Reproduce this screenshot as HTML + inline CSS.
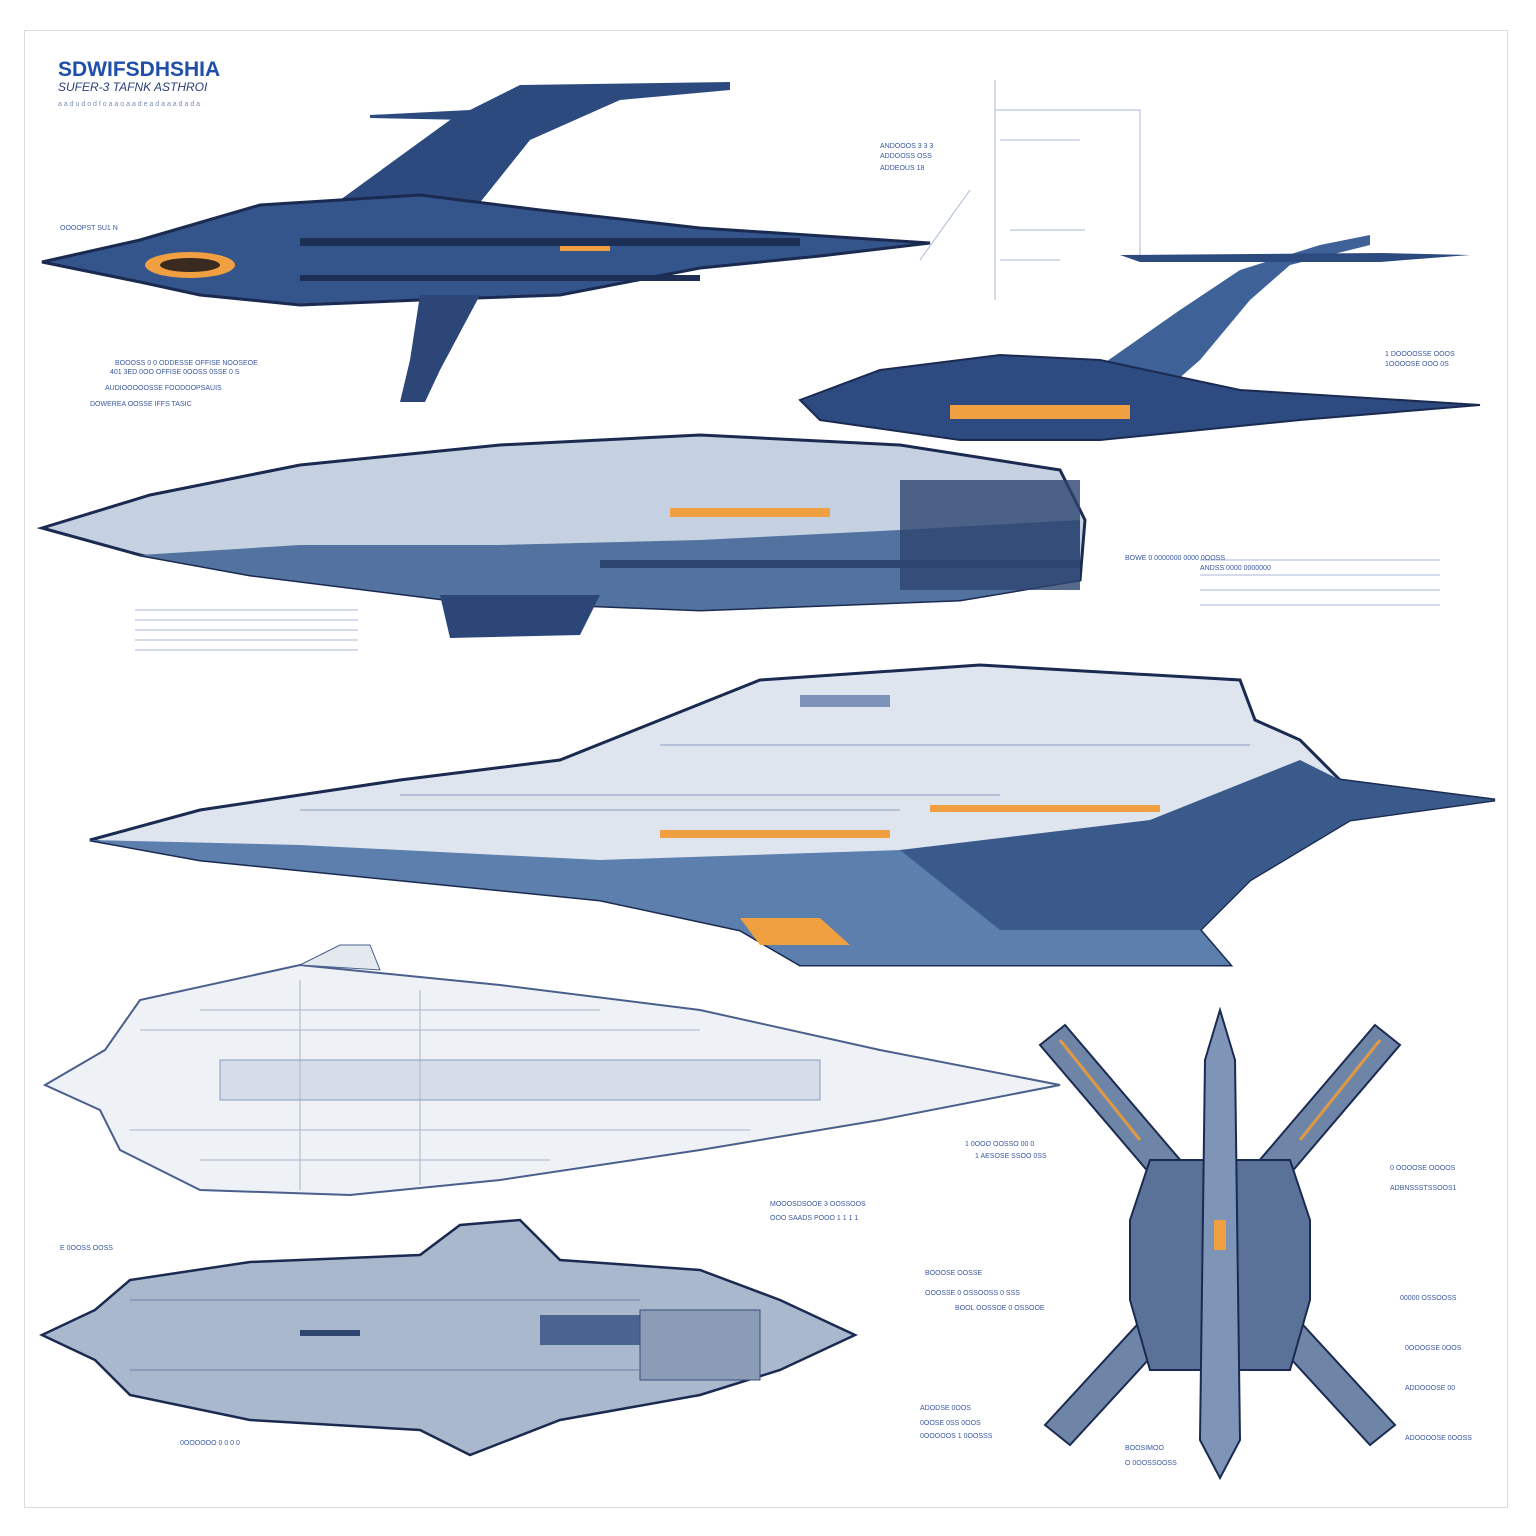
<!DOCTYPE html>
<html><head><meta charset="utf-8"><style>
html,body{margin:0;padding:0;background:#fff;}
svg{display:block;font-family:"Liberation Sans",sans-serif;}
</style></head><body>
<svg width="1536" height="1536" viewBox="0 0 1536 1536" xmlns="http://www.w3.org/2000/svg">
<rect x="0" y="0" width="1536" height="1536" fill="#fff"/>
<rect x="24.5" y="30.5" width="1483" height="1477" fill="#fff" stroke="#d8dbe0"/>
<text x="58" y="76" font-size="21" font-weight="bold" fill="#1f4fa8">SDWIFSDHSHIA</text>
<text x="58" y="91" font-size="12" fill="#2a3f78" font-style="italic">SUFER-3 TAFNK ASTHROI</text>
<text x="58" y="106" font-size="7" fill="#7a8fb8">a a d u d o d f o a a o a a d e a d a a a d a d a</text>

<g stroke="#a8b8d8" fill="none" stroke-width="1">
<path d="M995 80 V300 M995 110 H1140 V260 M1000 140 H1080 M1010 230 H1085 M920 260 L970 190 M1000 260 H1060"/>
<path d="M135 610 H358 M135 620 H358 M135 630 H358 M135 640 H358 M135 650 H358"/>
<path d="M1200 560 H1440 M1200 575 H1440 M1200 590 H1440 M1200 605 H1440"/>
</g>
<g font-size="7" fill="#3a57a0">
<text x="60" y="230">OOOOPST SU1 N</text>
<text x="115" y="365">BOOOSS 0 0 ODDESSE OFFISE NOOSEOE</text>
<text x="110" y="374">401 3ED 0OO OFFISE 0OOSS 0SSE 0 S</text>
<text x="105" y="390">AUDIOOOOOSSE FOODOOPSAUIS</text>
<text x="90" y="406">DOWEREA OOSSE IFFS TASIC</text>
<text x="880" y="148">ANDOOOS 3 3 3</text><text x="880" y="158">ADDOOSS OSS</text><text x="880" y="170">ADDEOUS 18</text>
<text x="1385" y="356">1 DOOOOSSE OOOS</text><text x="1385" y="366">1OOOOSE OOO 0S</text>
<text x="1125" y="560">BOWE 0 0000000 0000 0OOSS</text><text x="1200" y="570">ANDSS 0000 0000000</text>
<text x="770" y="1206">MOOOSDSOOE 3 OOSSOOS</text><text x="770" y="1220">OOO SAADS POOO 1 1 1 1</text>
<text x="965" y="1146">1 0OOO OOSSO 00 0</text><text x="975" y="1158">1 AESOSE SSOO 0SS</text>
<text x="925" y="1275">BOOOSE OOSSE</text><text x="925" y="1295">OOOSSE 0 OSSOOSS 0 SSS</text><text x="955" y="1310">BOOL OOSSOE 0 OSSOOE</text>
<text x="1390" y="1170">0 OOOOSE OOOOS</text><text x="1390" y="1190">ADBNSSSTSSOOS1</text><text x="1400" y="1300">00000 OSSOOSS</text>
<text x="1405" y="1350">0OOOGSE 0OOS</text><text x="1405" y="1390">ADDOOOSE 00</text><text x="1405" y="1440">ADOOOOSE 0OOSS</text>
<text x="920" y="1410">ADODSE 0OOS</text><text x="920" y="1425">0OOSE 0SS 0OOS</text><text x="920" y="1438">0OOOOOS 1 0OOSSS</text>
<text x="1125" y="1450">BOOSIMOO</text><text x="1125" y="1465">O 0OOSSOOSS</text>
<text x="60" y="1250">E 0OOSS OOSS</text><text x="180" y="1445">0OOOOOO 0 0 0 0</text>
</g>

<!-- Ship 1 -->
<g>
<polygon points="340,200 450,120 520,85 730,82 730,90 620,100 530,140 470,215" fill="#2c4a7e"/>
<polygon points="370,115 470,110 470,120 370,118" fill="#2c4a7e"/>
<polygon points="42,262 140,240 260,205 420,195 540,210 700,228 930,243 820,256 700,268 560,295 420,300 300,305 200,295 140,282" fill="#34558c" stroke="#1a2a50" stroke-width="3"/>
<polygon points="420,295 480,295 440,370 425,402 400,402 410,360" fill="#2b4677"/>
<ellipse cx="190" cy="265" rx="45" ry="13" fill="#f0a040"/>
<ellipse cx="190" cy="265" rx="30" ry="7" fill="#3a2a20"/>
<rect x="300" y="238" width="500" height="8" fill="#1e2f55"/>
<rect x="300" y="275" width="400" height="6" fill="#1e2f55"/>
<rect x="560" y="246" width="50" height="5" fill="#f0a040"/>
</g>

<!-- Ship 2 -->
<g>
<polygon points="1080,380 1180,310 1240,270 1320,245 1370,235 1370,245 1290,265 1250,300 1200,360 1160,395" fill="#3e6198"/>
<polygon points="1120,255 1380,253 1470,255 1380,262 1140,262" fill="#2c4a7e"/>
<polygon points="800,400 880,370 1000,355 1100,360 1240,390 1480,405 1300,420 1100,440 960,440 820,420" fill="#2d4b80" stroke="#1a2a50" stroke-width="2"/>
<rect x="950" y="405" width="180" height="14" fill="#f0a040"/>
<polygon points="42,528 150,495 300,465 500,445 700,435 900,445 1060,470 1085,520 1080,580 960,600 700,610 450,600 250,575 140,555" fill="#c5d0e0" stroke="#1a2a50" stroke-width="3"/>
<polygon points="140,555 300,545 500,545 700,540 900,530 1080,520 1080,580 960,600 700,610 450,600 250,575" fill="#52739f"/>
<rect x="670" y="508" width="160" height="9" fill="#f0a040"/>
<polygon points="440,595 600,595 580,635 450,638" fill="#2b4677"/>
<rect x="900" y="480" width="180" height="110" fill="#2d456f" opacity="0.8"/>
<rect x="600" y="560" width="480" height="8" fill="#2d456f"/>
</g>

<!-- Ship 3 -->
<g>
<polygon points="90,840 200,810 400,780 560,760 660,720 760,680 980,665 1240,680 1255,720 1300,740 1340,780 1495,800 1350,820 1250,880 1200,930 1230,965 800,965 740,930 600,900 400,880 200,860" fill="#dfe5ee" stroke="#1a2a50" stroke-width="3"/>
<polygon points="90,840 300,845 600,860 900,850 1150,830 1495,800 1350,820 1250,880 1200,930 1230,965 800,965 740,930 600,900 400,880 200,860" fill="#5c7fae"/>
<polygon points="900,850 1150,820 1300,760 1340,780 1495,800 1350,820 1250,880 1200,930 1000,930" fill="#3a5a8c"/>
<rect x="660" y="830" width="230" height="8" fill="#f0a040"/>
<rect x="930" y="805" width="230" height="7" fill="#f0a040"/>
<polygon points="740,918 820,918 850,945 760,945" fill="#f0a040"/>
<rect x="800" y="695" width="90" height="12" fill="#7d92b8"/>
<path d="M300 810 H900 M400 795 H1000 M660 745 H1250" stroke="#8a9cc0" fill="none"/>
</g>

<!-- Ship 4 (light) -->
<g>
<polygon points="45,1085 105,1050 140,1000 300,965 500,985 700,1010 880,1050 1060,1085 880,1120 700,1150 500,1180 350,1195 200,1190 120,1150 100,1110" fill="#eef1f6" stroke="#4a5f8c" stroke-width="2"/>
<rect x="220" y="1060" width="600" height="40" fill="#d6dde8" stroke="#8a9cc0"/>
<path d="M140 1030 H700 M130 1130 H750 M200 1010 H600 M200 1160 H550 M300 980 V1190 M420 990 V1185" stroke="#a8b5cc" fill="none"/>
<polygon points="300,965 340,945 370,945 380,970" fill="#e4e9f0" stroke="#4a5f8c"/>
</g>

<!-- Ship 5 -->
<g>
<polygon points="42,1335 95,1310 130,1280 250,1262 420,1255 460,1225 520,1220 560,1260 700,1270 780,1300 855,1335 780,1370 700,1395 560,1420 470,1455 420,1430 250,1420 130,1395 95,1360" fill="#a9b8cc" stroke="#1a2a50" stroke-width="2.5"/>
<rect x="540" y="1315" width="110" height="30" fill="#4a6390"/>
<rect x="300" y="1330" width="60" height="6" fill="#2d456f"/>
<rect x="640" y="1310" width="120" height="70" fill="#8b9cb6" stroke="#3a4d7a"/>
<path d="M130 1300 H640 M130 1370 H640" stroke="#6a7fa3" fill="none"/>
</g>

<!-- Ship 6 X -->
<g stroke="#1a2a50" stroke-width="2">
<polygon points="1040,1045 1065,1025 1240,1230 1215,1250" fill="#6e85a8"/>
<polygon points="1400,1045 1375,1025 1200,1230 1225,1250" fill="#6e85a8"/>
<polygon points="1045,1425 1070,1445 1240,1260 1215,1240" fill="#6e85a8"/>
<polygon points="1395,1425 1370,1445 1200,1260 1225,1240" fill="#6e85a8"/>
<polygon points="1150,1160 1290,1160 1310,1220 1310,1300 1290,1370 1150,1370 1130,1300 1130,1220" fill="#5a7298"/>
<polygon points="1220,1010 1235,1060 1240,1440 1220,1478 1200,1440 1205,1060" fill="#7f95b8"/>
</g>
<path d="M1380 1040 L1300 1140 M1060 1040 L1140 1140" stroke="#e09a40" stroke-width="3"/>
<rect x="1214" y="1220" width="12" height="30" fill="#f0a040"/>
</svg>
</body></html>
